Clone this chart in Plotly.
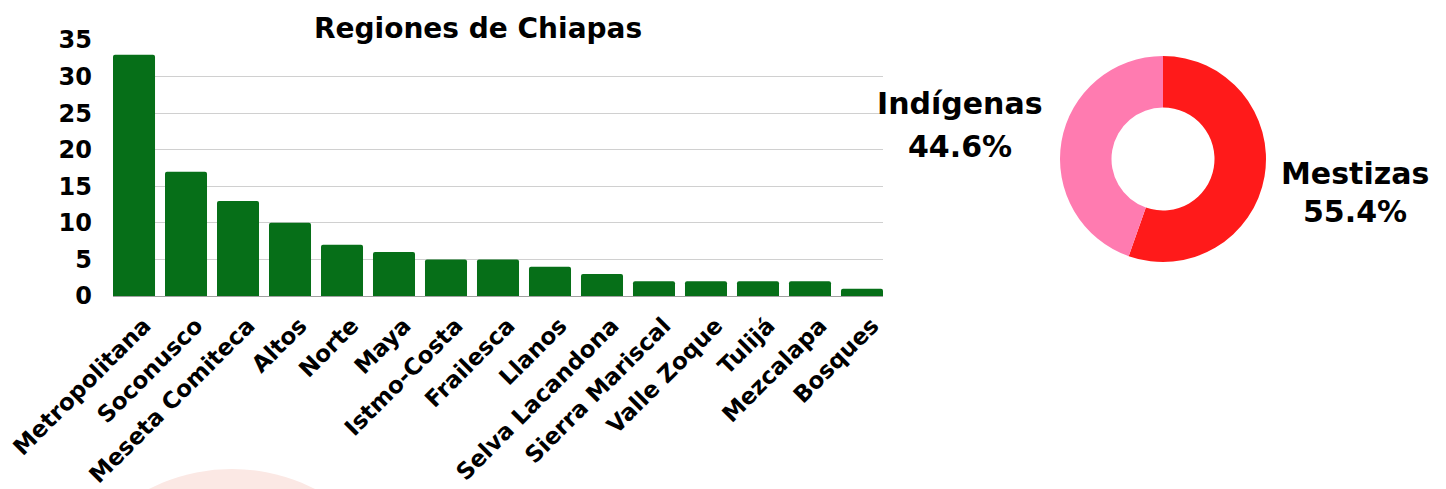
import plotly.graph_objects as go

regiones = ["Metropolitana", "Soconusco", "Meseta Comiteca", "Altos", "Norte", "Maya",
            "Istmo-Costa", "Frailesca", "Llanos", "Selva Lacandona", "Sierra Mariscal",
            "Valle Zoque", "Tulijá", "Mezcalapa", "Bosques"]
valores = [33, 17, 13, 10, 7, 6, 5, 5, 4, 3, 2, 2, 2, 2, 1]
y_ticks = [0, 5, 10, 15, 20, 25, 30, 35]

grupos = ["Mestizas", "Indígenas"]
porcentajes = [55.4, 44.6]
colores_pie = ["#ff1a1a", "#ff7bb0"]

W, H = 1446, 489
OFF = 8  # page body margin
def px(x):
    return (x - OFF) / W
def py(y):
    return (H - (y - OFF)) / H

FONT = "DejaVu Sans"
GAP = 0.192

fig = go.Figure()
fig.add_trace(go.Bar(x=regiones, y=valores, marker=dict(color="#066f18", line=dict(width=0)),
                     xaxis="x", yaxis="y", showlegend=False))
fig.add_trace(go.Pie(labels=grupos, values=porcentajes, hole=0.5, sort=False,
                     direction="clockwise", rotation=0, textinfo="none",
                     marker=dict(colors=colores_pie, line=dict(width=0)),
                     domain=dict(x=[px(1060), px(1266)], y=[py(262), py(56)]),
                     showlegend=False))

fig.update_layout(
    width=W, height=H, margin=dict(l=0, r=0, t=0, b=0, autoexpand=False),
    paper_bgcolor="white", plot_bgcolor="white",
    bargap=GAP, barcornerradius=2,
    xaxis=dict(domain=[px(113), px(883)], tickangle=-45, showgrid=False, automargin=False,
               range=[-0.5 + GAP / 2, len(regiones) - 0.5 - GAP / 2],
               showline=True, linecolor="#a0a0a0", linewidth=1, ticks="",
               ticklabelshift=10, ticklabelstandoff=6,
               tickfont=dict(family=FONT, size=23, color="black", weight="bold")),
    yaxis=dict(domain=[py(296), py(40)], range=[0, 35], tickvals=y_ticks, automargin=False,
               showgrid=True, gridcolor="#d0d0d0", gridwidth=1, zeroline=False,
               showline=False, ticks="", ticklabelstandoff=20,
               tickfont=dict(family=FONT, size=24, color="black", weight="bold")),
    shapes=[dict(type="circle", xref="paper", yref="paper", layer="below",
                 x0=px(232 - 182), x1=px(232 + 182), y0=py(651 + 182), y1=py(651 - 182),
                 fillcolor="#fbe8e4", line=dict(width=0))],
    annotations=[
        dict(text="<b>Regiones de Chiapas</b>", x=px(478), y=py(28), xref="paper", yref="paper",
             showarrow=False, xanchor="center", yanchor="middle",
             font=dict(family=FONT, size=28, color="black")),
        dict(text="<b>Indígenas</b>", x=px(960), y=py(104), xref="paper", yref="paper",
             showarrow=False, xanchor="center", yanchor="middle",
             font=dict(family=FONT, size=30, color="black")),
        dict(text="<b>44.6%</b>", x=px(960), y=py(146), xref="paper", yref="paper",
             showarrow=False, xanchor="center", yanchor="middle",
             font=dict(family=FONT, size=30, color="black")),
        dict(text="<b>Mestizas</b>", x=px(1355), y=py(173), xref="paper", yref="paper",
             showarrow=False, xanchor="center", yanchor="middle",
             font=dict(family=FONT, size=30, color="black")),
        dict(text="<b>55.4%</b>", x=px(1355), y=py(211), xref="paper", yref="paper",
             showarrow=False, xanchor="center", yanchor="middle",
             font=dict(family=FONT, size=30, color="black")),
    ],
)

fig.write_html("out.html")
